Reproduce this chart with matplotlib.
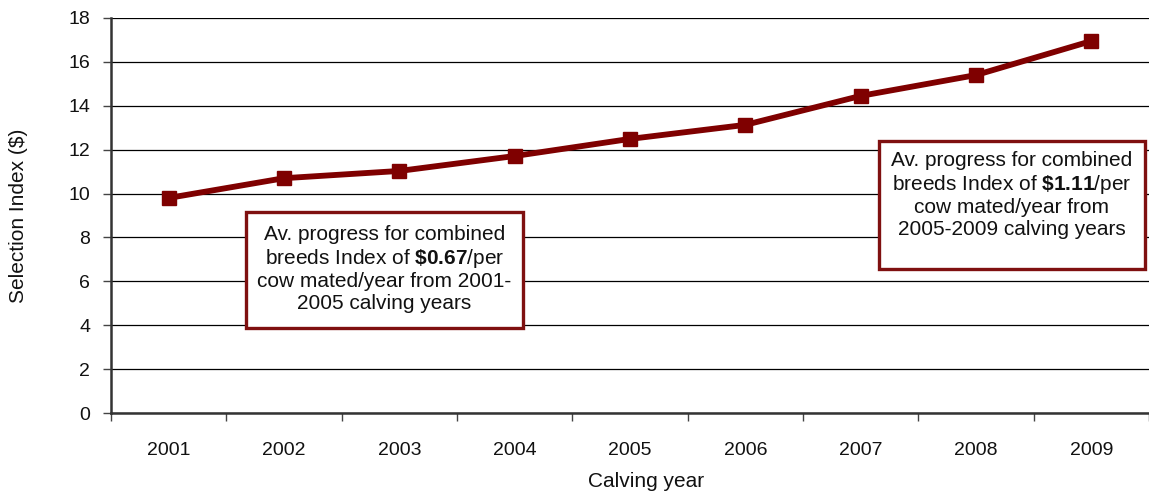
import numpy as np
import matplotlib
matplotlib.use('Agg')
import matplotlib.pyplot as plt
from matplotlib.patches import Rectangle

plt.rcParams['font.family'] = ['Liberation Sans', 'DejaVu Sans']
plt.rcParams['mathtext.fontset'] = 'custom'
plt.rcParams['mathtext.rm'] = 'Liberation Sans'
plt.rcParams['mathtext.bf'] = 'Liberation Sans:bold'

# dati nolasīti no attēla
gadi = ['2001', '2002', '2003', '2004', '2005', '2006', '2007', '2008', '2009']
indekss = [9.8, 10.7, 11.03, 11.71, 12.49, 13.13, 14.45, 15.4, 16.95]
y_ticks = [0, 2, 4, 6, 8, 10, 12, 14, 16, 18]

teksts1 = "Av. progress for combined\nbreeds Index of $\\mathbf{\\$0.67}$/per\ncow mated/year from 2001-\n2005 calving years"
teksts2 = "Av. progress for combined\nbreeds Index of $\\mathbf{\\$1.11}$/per\ncow mated/year from\n2005-2009 calving years"

KRASA = '#7f0000'

fig = plt.figure(figsize=(11.49, 4.91), dpi=100)
ax = fig.add_axes([111 / 1149, 1 - 413 / 491, 1 - 111 / 1149, (413 - 18) / 491])

x = np.arange(len(gadi))
ax.plot(x, indekss, color=KRASA, lw=4.2, marker='s', ms=9.5, zorder=3)

ax.set_ylim(0, 18)
ax.set_xlim(-0.5, 8.22)
ax.set_yticks(y_ticks)
ax.yaxis.grid(True, color='black', lw=0.9)
ax.set_axisbelow(True)

# ķeksīši starp kategorijām, etiķetes centrā
ax.set_xticks(np.arange(len(gadi) + 1) - 0.5)
ax.set_xticklabels([])
ax.set_xticks(x, minor=True)
ax.set_xticklabels(gadi, minor=True)
ax.tick_params(axis='x', which='major', direction='out', length=6, width=1, color='#444444')
ax.tick_params(axis='x', which='minor', length=0, pad=21, labelsize=14, labelcolor='#111111')
ax.tick_params(axis='y', direction='out', length=6, width=1, color='#444444', labelsize=14,
               labelcolor='#111111', pad=9)

for s in ['top', 'right']:
    ax.spines[s].set_visible(False)
for s in ['left', 'bottom']:
    ax.spines[s].set_color('#333333')
    ax.spines[s].set_linewidth(1.8)

ax.set_ylabel('Selection Index ($)', fontsize=15, color='#111111')
ax.yaxis.set_label_coords(-(111 - 28) / (1149 - 111), 0.5)
ax.set_xlabel('Calving year', fontsize=15, color='#111111')
ax.xaxis.set_label_coords((646 - 111) / (1149 - 111), -0.15)

# anotāciju kastes
for (x0, y0, x1, y1), txt, ty in [((246, 212, 523, 328), teksts1, 269),
                                  ((879, 141, 1145, 269), teksts2, 195)]:
    fig.patches.append(Rectangle((x0 / 1149, 1 - y1 / 491), (x1 - x0) / 1149, (y1 - y0) / 491,
                                 transform=fig.transFigure, facecolor='white',
                                 edgecolor='#7f1010', lw=2.4, zorder=5))
    fig.text((x0 + x1) / 2 / 1149, 1 - ty / 491, txt, ha='center', va='center',
             fontsize=15, color='#111111', linespacing=1.15, zorder=6)

plt.savefig('out.png', dpi=100)
